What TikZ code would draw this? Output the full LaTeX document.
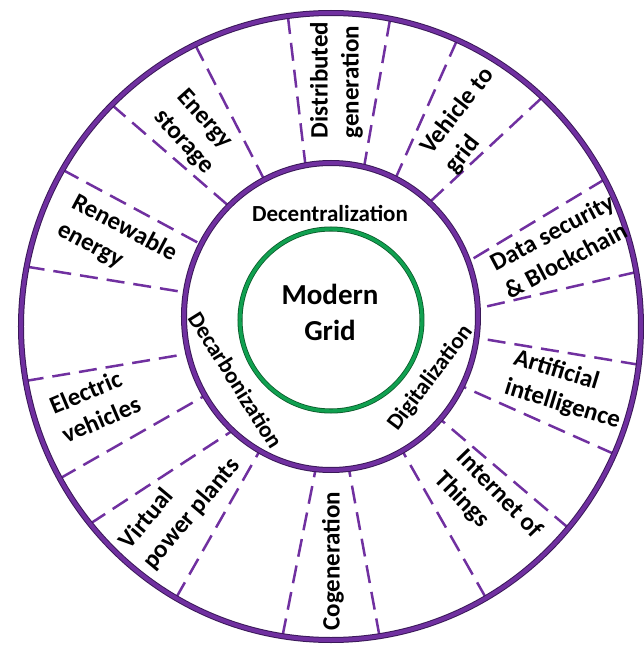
\documentclass[tikz,border=0pt]{standalone}
\usepackage{fontspec}
\setmainfont{Carlito}
\usetikzlibrary{calc}
\definecolor{ringpurple}{HTML}{7030A0}
\definecolor{ringdark}{HTML}{3A1858}
\definecolor{hubgreen}{HTML}{10A050}
\definecolor{hubdark}{HTML}{0B5A2A}
\begin{document}
\begin{tikzpicture}[x=1pt, y=1pt, ring/.style={draw=ringdark, line width=1pt, double=ringpurple, double distance=4pt}, hubring/.style={draw=hubdark, line width=0.8pt, double=hubgreen, double distance=3.4pt}, divider/.style={draw=ringpurple, line width=2.5pt, dash pattern=on 18pt off 9pt}, topic/.style={align=left, inner sep=0pt, font=\fontsize{25}{31}\selectfont\bfseries}, pillar/.style={inner sep=0pt, font=\fontsize{23}{28}\selectfont\bfseries}]
	\useasboundingbox (-331,-324) rectangle (313,322);
	\coordinate (oc) at (0,-4.5);
	\coordinate (ic) at (0,5.5);
	\coordinate (gc) at (0,2);
	
	% dashed dividers between the sectors
	\foreach \a/\b in {98/100, 79/77, 66/64, 47/48, 28/21, 10/3, -7/-8, -24/-27, -40/-42, -60/-61, -81/-83, 261/264, 240/241, 219/228, 209/211, 190/194, 169/171, 150/152, 135/134, 116/117}
		\draw[divider] ($(oc)+(\a:310pt and 313.5pt)$) -- ($(ic)+(\b:147pt and 153.5pt)$);
	
	% rings
	\draw[ring] (oc) ellipse [x radius=310pt, y radius=313.5pt];
	\draw[ring] (ic) ellipse [x radius=147pt, y radius=153.5pt];
	\draw[hubring] (gc) circle [radius=91pt];
	
	% hub
	\node[align=center, font=\fontsize{29}{36}\selectfont\bfseries] (grid) at (-1,10) {Modern\\Grid};
	
	% pillars
	\node[pillar] (decent) at (-1,109) {Decentralization};
	\node[pillar, rotate=-58] (decarb) at (-95,-58) {Decarbonization};
	\node[pillar, rotate=53] (digital) at (99.5,-56) {Digitalization};
	
	% topics
	\node[topic, rotate=90] (distgen) at (5.5,242) {Distributed\\generation};
	\node[topic, rotate=52] (v2g) at (139,201) {Vehicle to\\grid};
	\node[topic, rotate=28] (datasec) at (228,76) {Data security\\\& Blockchain};
	\node[topic, rotate=-17] (ai) at (236,-68) {Artificial\\intelligence};
	\node[topic, rotate=-46] (iot) at (157,-183) {Internet of\\Things};
	\node[topic, rotate=90] (cogen) at (2,-239) {Cogeneration};
	\node[topic, rotate=50] (vpp) at (-151,-182) {Virtual\\power plants};
	\node[topic, rotate=23] (ev) at (-236,-83) {Electric\\vehicles};
	\node[topic, rotate=-28] (renew) at (-214,80) {Renewable\\energy};
	\node[topic, rotate=-48] (storage) at (-136,190) {Energy\\storage};
\end{tikzpicture}
\end{document}
